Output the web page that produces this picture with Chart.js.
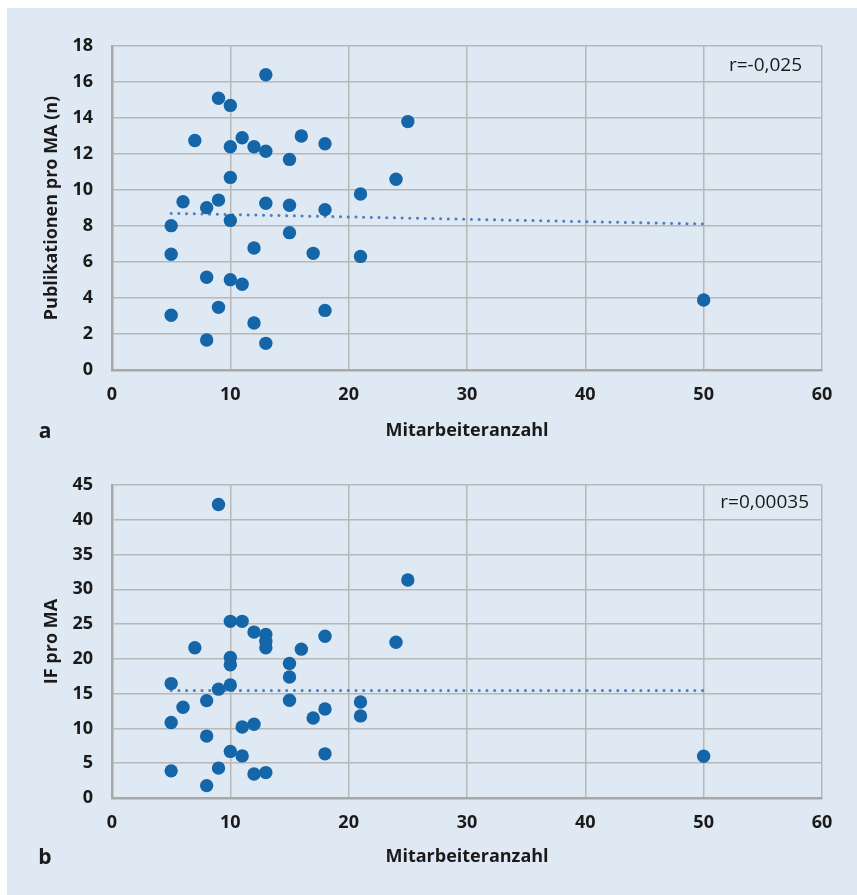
<!DOCTYPE html>
<html>
<head>
<meta charset="utf-8">
<script src="https://cdn.jsdelivr.net/npm/chart.js@4"></script>
<style>
  body { margin: 0; background: #fff; }
  #panel { position: absolute; left: 7px; top: 8px; width: 850px; height: 887px; background: #dfe9f3; }
  canvas { position: absolute; left: 0; }
  #chartA { top: 0; }
  #chartB { top: 447px; }
</style>
</head>
<body>
<div id="panel"></div>
<canvas id="chartA" width="857" height="447"></canvas>
<canvas id="chartB" width="857" height="448"></canvas>
<script>
//------Dados------

// a: Publikationen pro MA
const staffA = [13, 9, 10, 25, 7, 11, 10, 12, 13, 16, 18, 15, 10, 24, 21, 6, 9, 8, 13, 15, 18, 10, 5, 15, 12, 17, 5, 21, 8, 10, 11, 9, 5, 18, 12, 8, 13, 50];
const pubsA = [16.4, 15.1, 14.7, 13.8, 12.75, 12.9, 12.4, 12.4, 12.15, 13.0, 12.57, 11.7, 10.7, 10.6, 9.78, 9.35, 9.44, 9.02, 9.26, 9.15, 8.91, 8.31, 8.02, 7.63, 6.78, 6.48, 6.43, 6.31, 5.15, 5.02, 4.76, 3.48, 3.04, 3.31, 2.61, 1.67, 1.48, 3.89];
const trendXA = [5, 50];
const trendYA = [8.7, 8.11];

// b: IF pro MA
const staffB = [9, 25, 10, 11, 12, 13, 13, 13, 18, 24, 7, 16, 10, 10, 15, 15, 5, 10, 9, 8, 15, 21, 6, 18, 5, 17, 21, 11, 12, 8, 10, 11, 18, 5, 9, 12, 13, 8, 50];
const ifB = [42.2, 31.35, 25.4, 25.4, 23.85, 23.5, 22.55, 21.6, 23.25, 22.4, 21.6, 21.4, 20.2, 19.15, 19.35, 17.4, 16.45, 16.25, 15.65, 14.0, 14.05, 13.8, 13.05, 12.8, 10.85, 11.5, 11.8, 10.2, 10.6, 8.9, 6.7, 6.05, 6.35, 3.9, 4.3, 3.45, 3.65, 1.78, 6.0];
const trendXB = [5, 50];
const trendYB = [15.45, 15.45];

const xTicks = [0, 10, 20, 30, 40, 50, 60];
//-----------------

const pointColor = '#1565a9';
const trendColor = '#4f7fc1';
const gridColor = '#b8b8b8';
const borderColor = '#a8a8a8';
const textColor = '#1a1a1a';
const fontFamily = '"Open Sans", "Noto Sans", sans-serif';

function toPoints(xs, ys) {
  return xs.map((x, i) => ({ x: x, y: ys[i] }));
}

// r-Wert und Buchstabe
const labelPlugin = {
  id: 'panelLabels',
  afterDraw(chart, args, opts) {
    const ctx = chart.ctx;
    const area = chart.chartArea;
    ctx.save();
    ctx.fillStyle = textColor;
    ctx.font = '19px ' + fontFamily;
    ctx.textAlign = 'right';
    ctx.textBaseline = 'middle';
    ctx.fillText(opts.rText, area.right - opts.rRight, area.top + opts.rTop);
    ctx.font = 'bold 21px ' + fontFamily;
    ctx.textAlign = 'center';
    ctx.fillText(opts.letter, 45, opts.letterY);
    ctx.restore();
  }
};

function makeChart(id, xs, ys, tx, ty, yMax, yStep, yTitle, topPad, xHeight, titlePad, labels) {
  const ctx = document.getElementById(id).getContext('2d');
  return new Chart(ctx, {
    type: 'scatter',
    data: {
      datasets: [
        {
          data: toPoints(xs, ys),
          backgroundColor: pointColor,
          borderWidth: 0,
          pointRadius: 6.7,
          pointHoverRadius: 6.7
        },
        {
          type: 'line',
          data: toPoints(tx, ty),
          showLine: true,
          borderColor: trendColor,
          borderWidth: 3,
          borderDash: [0.1, 7.6],
          borderCapStyle: 'round',
          pointRadius: 0,
          fill: false
        }
      ]
    },
    options: {
      responsive: false,
      animation: false,
      layout: { padding: { left: 0, top: topPad, right: 35, bottom: 0 } },
      plugins: {
        legend: { display: false },
        tooltip: { enabled: false },
        panelLabels: labels
      },
      scales: {
        x: {
          type: 'linear',
          min: 0,
          max: 60,
          afterBuildTicks: (scale) => { scale.ticks = xTicks.map(v => ({ value: v })); },
          afterFit: (scale) => { scale.height = xHeight; },
          grid: { color: gridColor, lineWidth: 1.5, drawTicks: false },
          border: { color: borderColor, width: 2.5 },
          ticks: { color: textColor, padding: 14, font: { family: fontFamily, size: 18, weight: 'bold' } },
          title: {
            display: true,
            text: 'Mitarbeiteranzahl',
            color: textColor,
            padding: { top: 4, bottom: titlePad },
            font: { family: fontFamily, size: 18, weight: 'bold' }
          }
        },
        y: {
          min: 0,
          max: yMax,
          afterFit: (scale) => { scale.width = 112; },
          grid: { color: gridColor, lineWidth: 1.5, drawTicks: false },
          border: { color: borderColor, width: 2.5 },
          ticks: { stepSize: yStep, color: textColor, padding: 19, font: { family: fontFamily, size: 18, weight: 'bold' } },
          title: {
            display: true,
            text: yTitle,
            color: textColor,
            padding: { top: 41, bottom: 4 },
            font: { family: fontFamily, size: 18, weight: 'bold' }
          }
        }
      }
    },
    plugins: [labelPlugin]
  });
}

makeChart('chartA', staffA, pubsA, trendXA, trendYA, 18, 2, 'Publikationen pro MA (n)', 46, 77, 5,
  { rText: 'r=-0,025', rRight: 20, rTop: 20, letter: 'a', letterY: 432 });

makeChart('chartB', staffB, ifB, trendXB, trendYB, 45, 5, 'IF pro MA', 38, 97, 27,
  { rText: 'r=0,00035', rRight: 13, rTop: 18, letter: 'b', letterY: 411 });
</script>
</body>
</html>
